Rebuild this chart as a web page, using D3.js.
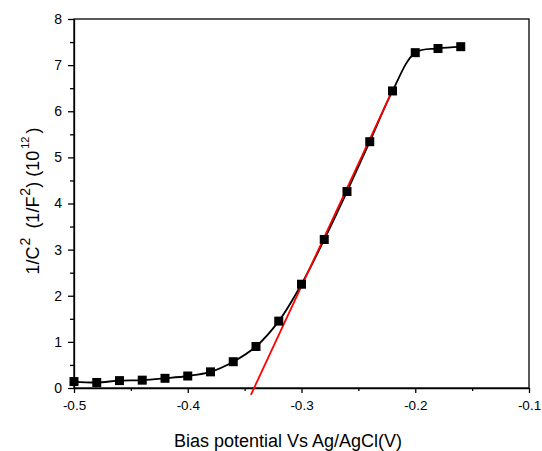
<!DOCTYPE html>
<html><head><meta charset="utf-8">
<script src="https://cdn.jsdelivr.net/npm/d3@7"></script>
<style>body{margin:0;background:#fff}text{font-family:"Liberation Sans",Arial,sans-serif}</style>
</head><body><svg id="c" width="542" height="451"></svg>
<script>
const potentials = [-0.50,-0.48,-0.46,-0.44,-0.42,-0.40,-0.38,-0.36,-0.34,-0.32,-0.30,-0.28,-0.26,-0.24,-0.22,-0.20,-0.18,-0.16];
const invC2 = [0.14,0.12,0.16,0.17,0.21,0.26,0.35,0.57,0.90,1.45,2.25,3.22,4.26,5.34,6.44,7.27,7.36,7.40];
const fitX = [-0.3445,-0.22];
const fitY = [-0.15,6.45];
const xTicks = [-0.5,-0.4,-0.3,-0.2,-0.1];
const yTicks = [0,1,2,3,4,5,6,7,8];

const svg = d3.select("#c");
const L=74,R=529,T=19,B=388;
const x = d3.scaleLinear().domain([-0.5,-0.1]).range([L,R]);
const y = d3.scaleLinear().domain([0,8]).range([B,T]);

// frame
svg.append("rect").attr("x",L).attr("y",T).attr("width",R-L).attr("height",B-T)
  .attr("fill","none").attr("stroke","#000").attr("stroke-width",1.3);

// x axis
const xa = svg.append("g").attr("transform",`translate(0,${B})`)
  .call(d3.axisBottom(x).tickValues(xTicks).tickFormat(d3.format(".1f")).tickSize(5).tickSizeOuter(0));
svg.append("g").attr("transform",`translate(0,${B})`)
  .call(d3.axisBottom(x).tickValues(d3.range(-0.45,-0.1,0.1)).tickFormat("").tickSize(3).tickSizeOuter(0))
  .select(".domain").remove();
// y axis
const ya = svg.append("g").attr("transform",`translate(${L},0)`)
  .call(d3.axisLeft(y).tickValues(yTicks).tickSize(6).tickSizeOuter(0));
svg.append("g").attr("transform",`translate(${L},0)`)
  .call(d3.axisLeft(y).tickValues(d3.range(0.5,8,1)).tickFormat("").tickSize(4).tickSizeOuter(0))
  .select(".domain").remove();
svg.selectAll(".tick line").attr("stroke-width",1.3);
svg.selectAll(".domain").attr("stroke-width",1.3);
xa.selectAll("text").attr("font-size",13.5).attr("dy","1.0em").text(d=>d3.format(".1f")(d).replace("−","-"));
ya.selectAll("text").attr("font-size",14).attr("x",-12);
svg.selectAll(".tick text").attr("font-family","Liberation Sans, Arial, sans-serif").attr("fill","#000");

// curve
const pts = potentials.map((p,i)=>[p,invC2[i]]);
svg.append("path").datum(pts)
  .attr("d",d3.line().x(d=>x(d[0])).y(d=>y(d[1])).curve(d3.curveCatmullRom.alpha(0.5)))
  .attr("fill","none").attr("stroke","#000").attr("stroke-width",1.8);

// fit line
svg.append("line").attr("x1",x(fitX[0])).attr("y1",y(fitY[0])).attr("x2",x(fitX[1])).attr("y2",y(fitY[1]))
  .attr("stroke","#ff0000").attr("stroke-width",1.8);

// markers
const s=9;
svg.selectAll("rect.m").data(pts).enter().append("rect").attr("class","m")
  .attr("x",d=>x(d[0])-s/2).attr("y",d=>y(d[1])-s/2).attr("width",s).attr("height",s).attr("fill","#000");

// x label
svg.append("text").attr("x",288).attr("y",447).attr("text-anchor","middle").attr("font-size",18).text("Bias potential Vs Ag/AgCl(V)");

// y label
const yl = svg.append("text").attr("transform","translate(39,201) rotate(-90)").attr("text-anchor","middle").attr("font-size",18);
yl.append("tspan").text("1/C");
yl.append("tspan").attr("font-size",14).attr("dy",-9).attr("dx",1).text("2");
yl.append("tspan").attr("dy",9).attr("dx",4).text(" (1/F");
yl.append("tspan").attr("font-size",14).attr("dy",-9).attr("dx",1).text("2");
yl.append("tspan").attr("dy",9).text(") (10");
yl.append("tspan").attr("font-size",11).attr("dy",-10).attr("dx",2).text("12");
yl.append("tspan").attr("dy",10).attr("dx",3).text(")");
</script></body></html>
